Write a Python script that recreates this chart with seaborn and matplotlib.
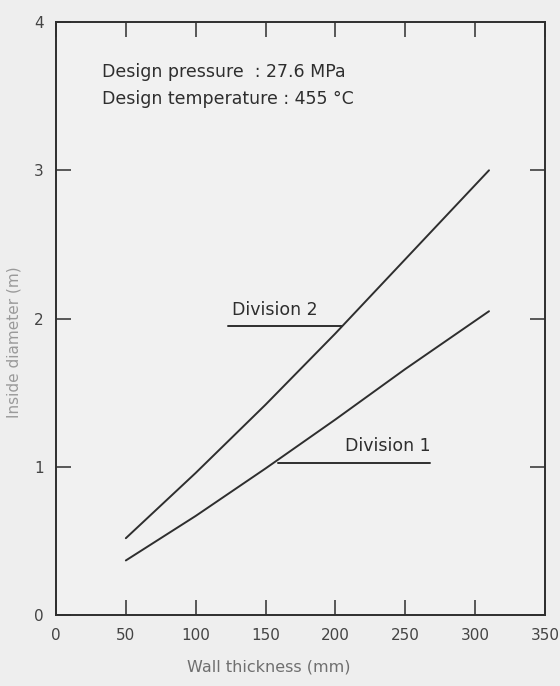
import matplotlib
matplotlib.use("Agg")
import matplotlib.pyplot as plt
import seaborn as sns
import pandas as pd

# Data
wall_thickness = [50, 100, 150, 200, 250, 310]
division2 = [0.52, 0.96, 1.42, 1.90, 2.40, 3.00]
division1 = [0.37, 0.67, 0.99, 1.32, 1.66, 2.05]

x_ticks = [0, 50, 100, 150, 200, 250, 300, 350]
y_ticks = [0, 1, 2, 3, 4]

# label leader lines (data coords)
div2_leader_x = [123, 205]
div2_leader_y = [1.95, 1.95]
div1_leader_x = [159, 268]
div1_leader_y = [1.03, 1.03]

df = pd.concat([
    pd.DataFrame({"x": wall_thickness, "y": division2, "series": "Division 2"}),
    pd.DataFrame({"x": wall_thickness, "y": division1, "series": "Division 1"}),
])

sns.set_theme(style="ticks")
plt.rcParams["font.family"] = ["DejaVu Sans"]

ink = "#2e2e2e"
fig = plt.figure(figsize=(5.6, 6.86), dpi=100)
fig.patch.set_facecolor("#eeeeee")
ax = fig.add_axes([0.1, 0.103, 0.873, 0.865])
ax.set_facecolor("#f1f1f1")

sns.lineplot(data=df, x="x", y="y", units="series", estimator=None,
             color=ink, linewidth=1.4, ax=ax, legend=False)

ax.plot(div2_leader_x, div2_leader_y, color=ink, linewidth=1.4)
ax.plot(div1_leader_x, div1_leader_y, color=ink, linewidth=1.4)
ax.text(div2_leader_x[0] + 3, 2.0, "Division 2", fontsize=12.5, color=ink,
        ha="left", va="bottom")
ax.text(div1_leader_x[1], 1.08, "Division 1", fontsize=12.5, color=ink,
        ha="right", va="bottom")

ax.text(33, 3.66, "Design pressure  : 27.6 MPa", fontsize=12.5, color=ink,
        ha="left", va="center")
ax.text(33, 3.48, "Design temperature : 455 \u00b0C", fontsize=12.5, color=ink,
        ha="left", va="center")

ax.set_xlim(0, 350)
ax.set_ylim(0, 4)
ax.set_xticks(x_ticks)
ax.set_yticks(y_ticks)
ax.set_xticklabels([str(v) for v in x_ticks])
ax.set_yticklabels([str(v) for v in y_ticks])
ax.tick_params(direction="in", top=True, right=True, length=11, width=1.1,
               color=ink, labelsize=11, labelcolor="#444444", pad=9)
for s in ax.spines.values():
    s.set_color(ink)
    s.set_linewidth(1.4)

ax.set_xlabel("Wall thickness (mm)", fontsize=11.5, color="#6f6f6f")
ax.set_ylabel("Inside diameter (m)", fontsize=11, color="#9a9a9a")
ax.xaxis.set_label_coords(0.435, -0.075)
ax.yaxis.set_label_coords(-0.07, 0.46)

fig.savefig("out.png", dpi=100, facecolor=fig.get_facecolor())
